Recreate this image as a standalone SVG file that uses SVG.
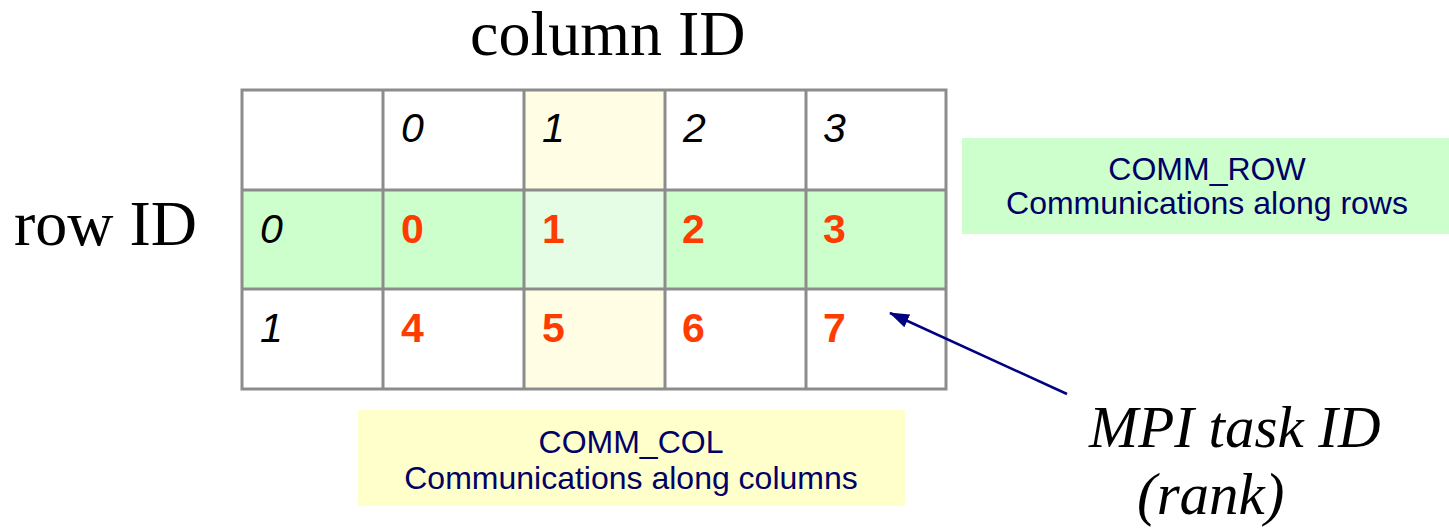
<svg xmlns="http://www.w3.org/2000/svg" width="1449" height="528" viewBox="0 0 1449 528">
<style>
.title{font-family:"Liberation Serif","Times New Roman",serif;font-size:64px;fill:#000}
.mpi{font-family:"Liberation Serif","Times New Roman",serif;font-size:59px;font-style:italic;fill:#000}
.idx{font-family:"Liberation Sans",Arial,sans-serif;font-size:41px;font-style:italic;fill:#000}
.rank{font-family:"Liberation Sans",Arial,sans-serif;font-size:41px;font-weight:bold;fill:#ff3c00}
.lbl{font-family:"Liberation Sans",Arial,sans-serif;font-size:32px;fill:#000066;text-anchor:middle}
.grid{stroke:#8c8c8c;stroke-width:3;fill:none}
</style>
<defs>
<marker id="ah" markerWidth="20" markerHeight="14" refX="19" refY="7" orient="auto" markerUnits="userSpaceOnUse" viewBox="0 0 20 14">
<path d="M0,0 L20,7 L0,14 z" fill="#000080"/>
</marker>
</defs>
<rect width="1449" height="528" fill="#fff"/>
<text class="title" x="470" y="55">column ID</text>
<text class="title" x="14" y="245">row ID</text>
<g id="table">
<rect x="242" y="90" width="704" height="299" fill="#fff"/>
<rect x="242" y="190" width="704" height="99" fill="#ccffcc"/>
<rect x="524" y="90" width="141" height="100" fill="#fffde4"/>
<rect x="524" y="289" width="141" height="100" fill="#fffde4"/>
<rect x="524" y="190" width="141" height="99" fill="#e5fde5"/>
<path class="grid" d="M242,90 H946 V389 H242 Z M242,190 H946 M242,289 H946 M383,90 V389 M524,90 V389 M665,90 V389 M806,90 V389"/>
</g>
<g id="headers">
<text class="idx" x="401" y="142">0</text>
<text class="idx" x="542" y="142">1</text>
<text class="idx" x="683" y="142">2</text>
<text class="idx" x="823" y="142">3</text>
<text class="idx" x="260" y="243">0</text>
<text class="idx" x="260" y="342">1</text>
</g>
<g id="ranks">
<text class="rank" x="401" y="243">0</text>
<text class="rank" x="542" y="243">1</text>
<text class="rank" x="682" y="243">2</text>
<text class="rank" x="823" y="243">3</text>
<text class="rank" x="401" y="342">4</text>
<text class="rank" x="542" y="342">5</text>
<text class="rank" x="682" y="342">6</text>
<text class="rank" x="823" y="342">7</text>
</g>
<g id="comm_row">
<rect x="962" y="138" width="487" height="96" fill="#ccffcc"/>
<text class="lbl" x="1207" y="180">COMM_ROW</text>
<text class="lbl" x="1207" y="214">Communications along rows</text>
</g>
<g id="comm_col">
<rect x="358" y="410" width="547" height="96" fill="#ffffcc"/>
<text class="lbl" x="631" y="453">COMM_COL</text>
<text class="lbl" x="631" y="489">Communications along columns</text>
</g>
<g id="mpi_label">
<text class="mpi" x="1089" y="447">MPI task ID</text>
<text class="mpi" x="1137" y="514">(rank)</text>
</g>
<g id="connectors">
<line x1="1067" y1="394" x2="890" y2="313" stroke="#000080" stroke-width="2.5" marker-end="url(#ah)"/>
</g>
</svg>
